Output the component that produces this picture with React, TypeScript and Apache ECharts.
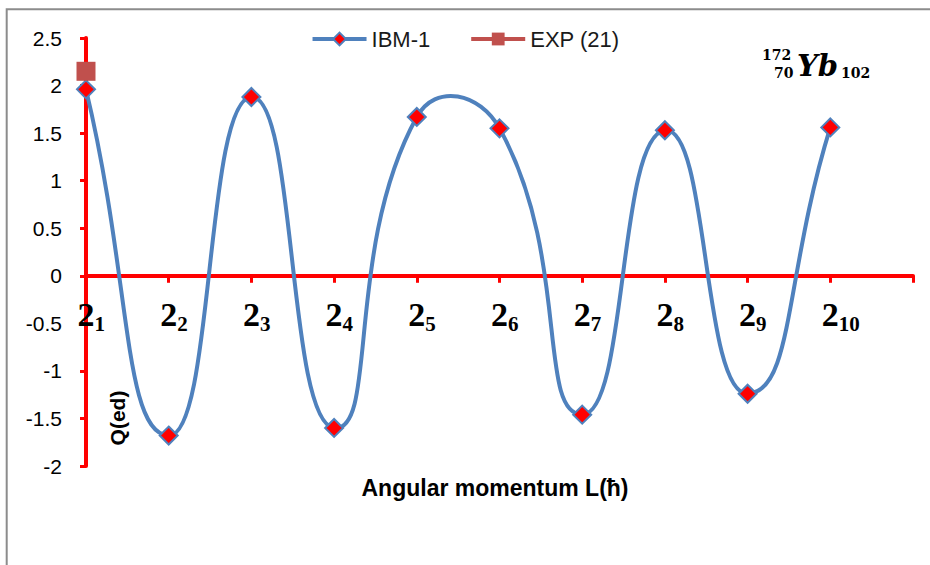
import React, { useEffect, useRef } from "react";
import * as echarts from "echarts";

const CATEGORIES = ["2_1", "2_2", "2_3", "2_4", "2_5", "2_6", "2_7", "2_8", "2_9", "2_10", ""];
const IBM1 = [1.96, -1.68, 1.88, -1.6, 1.67, 1.55, -1.46, 1.53, -1.24, 1.56];
const EXP21 = [2.15];
const Y_MIN = -2;
const Y_MAX = 2.5;
const Y_STEP = 0.5;

const BLUE = "#4F81BD";
const RED = "#FF0000";
const SMOOTH = 0.55;

export default function App() {
  const ref = useRef<HTMLDivElement>(null);
  useEffect(() => {
    if (!ref.current) return;
    const chart = echarts.init(ref.current, null, { renderer: "svg" });
    const subStyle = {
      fontFamily: "Liberation Serif",
      fontWeight: "bold",
      fontSize: 21,
      color: "#000",
      lineHeight: 20,
      verticalAlign: "bottom",
    };
    const gridTop = 38;
    const gridBottom = 99;
    const plotH = 565 - gridTop - gridBottom;
    const zeroOffset = -(plotH * (0 - Y_MIN)) / (Y_MAX - Y_MIN);

    const renderCurve = (params: any, api: any) => {
      const i = params.dataIndex;
      const n = IBM1.length;
      if (i >= n - 1) return null;
      const pt = (k: number) => {
        const kk = Math.max(0, Math.min(n - 1, k));
        return api.coord([kk, IBM1[kk]]);
      };
      const ctrl = (k: number) => {
        const cur = pt(k);
        const prev = pt(k - 1);
        const next = pt(k + 1);
        const vx = next[0] - prev[0];
        const vy = next[1] - prev[1];
        const d0 = Math.hypot(cur[0] - prev[0], cur[1] - prev[1]);
        const d1 = Math.hypot(next[0] - cur[0], next[1] - cur[1]);
        const r = d0 + d1 > 0 ? d1 / (d0 + d1) : 0.5;
        return {
          before: [cur[0] - vx * SMOOTH * (1 - r), cur[1] - vy * SMOOTH * (1 - r)],
          after: [cur[0] + vx * SMOOTH * r, cur[1] + vy * SMOOTH * r],
        };
      };
      const p0 = pt(i);
      const p1 = pt(i + 1);
      const c0 = ctrl(i).after;
      const c1 = ctrl(i + 1).before;
      return {
        type: "bezierCurve",
        shape: {
          x1: p0[0], y1: p0[1], x2: p1[0], y2: p1[1],
          cpx1: c0[0], cpy1: c0[1], cpx2: c1[0], cpy2: c1[1],
        },
        style: { stroke: BLUE, lineWidth: 4, fill: "none" },
      };
    };

    chart.setOption({
      animation: false,
      backgroundColor: "#fff",
      legend: {
        top: 23,
        left: "center",
        itemWidth: 54,
        itemHeight: 16,
        itemGap: 39,
        lineStyle: { width: 4, opacity: 1 },
        textStyle: { fontFamily: "Liberation Sans", fontSize: 22, color: "#1a1a1a" },
        data: ["IBM-1", "EXP (21)"],
      },
      grid: { left: 86, right: 17, top: gridTop, bottom: gridBottom, containLabel: false },
      xAxis: {
        type: "category",
        data: CATEGORIES,
        boundaryGap: false,
        offset: zeroOffset,
        axisLine: { show: true, onZero: false, lineStyle: { color: RED, width: 4 } },
        axisTick: { show: true, length: 7, lineStyle: { color: RED, width: 3 }, interval: 0 },
        axisLabel: {
          interval: 0,
          margin: 19,
          formatter: (v: string) => {
            if (!v) return "";
            const sub = v.split("_")[1];
            return `{h|${sub}}{n|2}{s|${sub}}`;
          },
          rich: {
            n: { fontFamily: "Liberation Serif", fontWeight: "bold", fontSize: 34, color: "#000", lineHeight: 40 },
            s: subStyle,
            h: { ...subStyle, color: "transparent" },
          },
        },
        splitLine: { show: false },
      },
      yAxis: {
        type: "value",
        min: Y_MIN,
        max: Y_MAX,
        interval: Y_STEP,
        axisLine: { show: true, onZero: false, lineStyle: { color: RED, width: 4 } },
        axisTick: { show: true, length: 6, lineStyle: { color: RED, width: 3 } },
        axisLabel: {
          margin: 24,
          fontFamily: "Liberation Sans",
          fontSize: 21,
          color: "#000",
          formatter: (v: number) => String(v),
        },
        splitLine: { show: false },
      },
      series: [
        {
          name: "IBM-1 curve",
          type: "custom",
          renderItem: renderCurve,
          data: IBM1.map((v, i) => [i, v]),
          encode: { x: 0, y: 1 },
          z: 2,
          silent: true,
        },
        {
          name: "IBM-1",
          type: "line",
          data: IBM1,
          symbol: "diamond",
          symbolSize: 18,
          itemStyle: { color: RED, borderColor: BLUE, borderWidth: 2 },
          lineStyle: { color: BLUE, width: 4, opacity: 0 },
          z: 3,
        },
        {
          name: "EXP (21)",
          type: "line",
          data: EXP21,
          symbol: "rect",
          symbolSize: 19,
          itemStyle: { color: "#C0504D" },
          lineStyle: { color: "#C0504D", width: 4 },
          z: 4,
        },
      ],
      graphic: [
        {
          type: "rect",
          shape: { x: 6.7, y: 9.3, width: 1000, height: 1000 },
          style: { fill: "none", stroke: "#8c8c8c", lineWidth: 2 },
          silent: true,
        },
        {
          type: "text",
          x: 117,
          y: 418,
          rotation: Math.PI / 2,
          style: {
            text: "Q(ed)",
            fontFamily: "Liberation Sans",
            fontWeight: "bold",
            fontSize: 21,
            fill: "#000",
            textAlign: "center",
            textVerticalAlign: "middle",
          },
        },
        {
          type: "text",
          x: 495,
          y: 488,
          style: {
            text: "Angular momentum L(ħ)",
            fontFamily: "Liberation Sans",
            fontWeight: "bold",
            fontSize: 23,
            fill: "#000",
            textAlign: "center",
            textVerticalAlign: "middle",
          },
        },
        {
          type: "text",
          x: 762,
          y: 55,
          style: { text: "172", fontFamily: "DejaVu Serif", fontWeight: "bold", fontSize: 14, fill: "#000", textAlign: "left", textVerticalAlign: "middle" },
        },
        {
          type: "text",
          x: 774,
          y: 73,
          style: { text: "70", fontFamily: "DejaVu Serif", fontWeight: "bold", fontSize: 14, fill: "#000", textAlign: "left", textVerticalAlign: "middle" },
        },
        {
          type: "text",
          x: 797,
          y: 66,
          style: { text: "Yb", fontFamily: "DejaVu Serif", fontWeight: "bold", fontStyle: "italic", fontSize: 29, fill: "#000", textAlign: "left", textVerticalAlign: "middle" },
        },
        {
          type: "text",
          x: 841,
          y: 73,
          style: { text: "102", fontFamily: "DejaVu Serif", fontWeight: "bold", fontSize: 14, fill: "#000", textAlign: "left", textVerticalAlign: "middle" },
        },
      ],
    });
    return () => chart.dispose();
  }, []);
  return (
    <div
      ref={ref}
      style={{ position: "absolute", left: 0, top: 0, width: 930, height: 565 }}
    />
  );
}
